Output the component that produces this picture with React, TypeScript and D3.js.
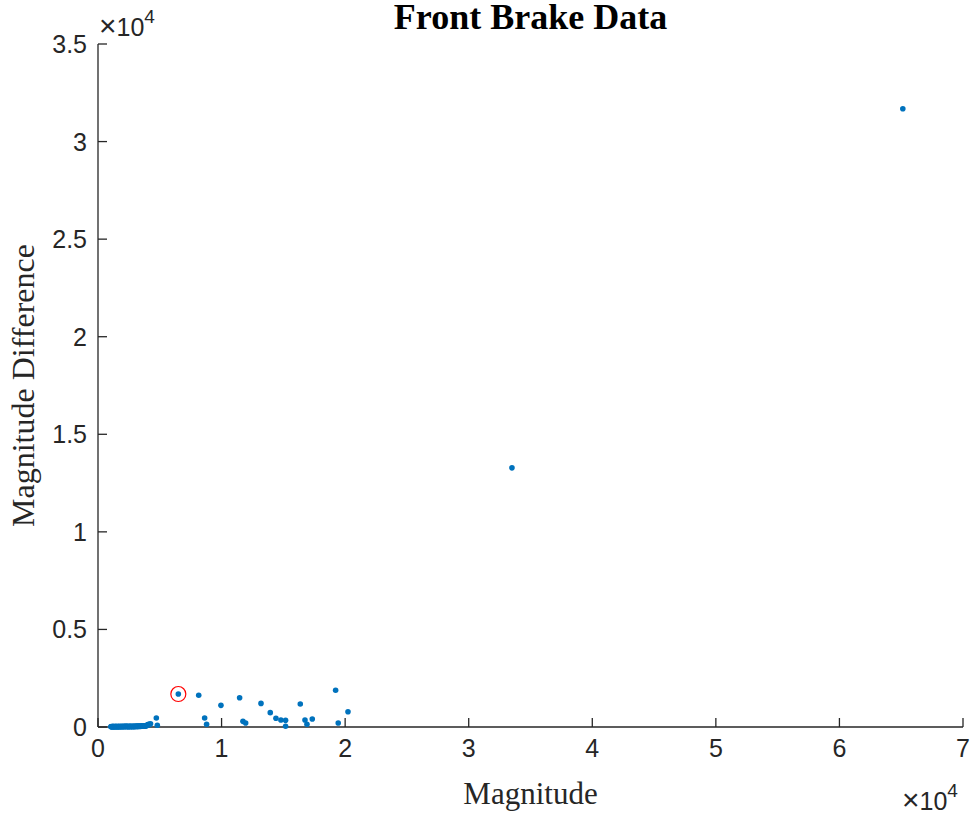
import React, { useEffect, useRef } from "react";
import * as d3 from "d3";

// Front brake readings: magnitude vs magnitude difference
const clusterMagnitude = [
    1040, 1070, 1100, 1130, 1160, 1190, 1220, 1250, 1290, 1320, 1350, 1380, 1420, 1450, 1480, 1510, 1550, 1580,
    1610, 1650, 1680, 1710, 1740, 1780, 1810, 1840, 1880, 1910, 1940, 1970, 2010, 2040, 2070, 2110, 2140, 2170,
    2200, 2240, 2270, 2300, 2340, 2370, 2400, 2430, 2470, 2500, 2530, 2570, 2600, 2630, 2660, 2700, 2730, 2760,
    2800, 2830, 2860, 2890, 2930, 2960, 2990, 3030, 3060, 3090, 3120, 3160, 3190, 3220, 3260, 3290, 3320, 3350,
    3390, 3420, 3450, 3490, 3520, 3550, 3580, 3620, 3650, 3680, 3720, 3750, 3780, 3810, 3850, 3880, 3910, 3950,
    3980, 4020, 4060, 4110, 4160];
const clusterDifference = [
    10, 20, 15, 5, 25, 10, 30, 15, 20, 10, 5, 25, 15, 30, 20, 10, 15, 25,
    5, 20, 30, 15, 10, 25, 20, 15, 30, 10, 20, 25, 15, 30, 20, 10, 25, 35,
    20, 30, 15, 25, 35, 30, 20, 15, 10, 25, 30, 20, 35, 15, 25, 30, 20, 10,
    25, 35, 20, 30, 15, 25, 30, 40, 20, 35, 25, 30, 45, 20, 35, 30, 40, 25,
    35, 45, 30, 40, 50, 35, 45, 40, 55, 45, 50, 60, 55, 65, 60, 70, 75, 80,
    90, 100, 120, 140, 130];

const spreadMagnitude = [4250, 4720, 4800, 6500, 8150, 8630, 8790, 9950, 11460, 11730, 11950, 13190, 13940, 14400, 14800, 15180, 15180, 16370, 16750, 16910, 17340, 19230, 19440, 20230, 33500, 65130];
const spreadDifference = [170, 460, 90, 1690, 1625, 460, 140, 1110, 1500, 290, 205, 1210, 735, 445, 360, 340, 40, 1180, 360, 140, 410, 1880, 205, 785, 13280, 31680];

// highlighted point (red circle)
const markedPoint = { magnitude: 6500, difference: 1690 };

const xTicks = [0, 10000, 20000, 30000, 40000, 50000, 60000, 70000];
const yTicks = [0, 5000, 10000, 15000, 20000, 25000, 30000, 35000];

export default function App() {
    const ref = useRef<SVGSVGElement>(null);

    useEffect(() => {
        document.body.style.margin = "0";
        const svg = d3.select(ref.current);
        svg.selectAll("*").remove();

        const axisColor = "#262626";
        const sans = "'Liberation Sans', Arial, Helvetica, sans-serif";
        const serif = "'Liberation Serif', 'Times New Roman', serif";

        const x = d3.scaleLinear().domain([0, 70000]).range([98, 963]);
        const y = d3.scaleLinear().domain([0, 35000]).range([727, 44]);

        const data = clusterMagnitude.map((m, i) => ({ m, d: clusterDifference[i] }))
            .concat(spreadMagnitude.map((m, i) => ({ m, d: spreadDifference[i] })));

        // axis lines
        svg.append("line")
            .attr("x1", x(0)).attr("x2", x(70000))
            .attr("y1", y(0)).attr("y2", y(0))
            .attr("stroke", axisColor).attr("stroke-width", 1.3);
        svg.append("line")
            .attr("x1", x(0)).attr("x2", x(0))
            .attr("y1", y(0)).attr("y2", y(35000))
            .attr("stroke", axisColor).attr("stroke-width", 1.3);

        // x ticks (inward)
        const xt = svg.append("g");
        xt.selectAll("line").data(xTicks).enter().append("line")
            .attr("x1", d => x(d)).attr("x2", d => x(d))
            .attr("y1", y(0)).attr("y2", y(0) - 9)
            .attr("stroke", axisColor).attr("stroke-width", 1.3);
        xt.selectAll("text").data(xTicks).enter().append("text")
            .attr("x", d => x(d)).attr("y", 757)
            .attr("text-anchor", "middle")
            .style("font-family", sans).style("font-size", "25px")
            .attr("fill", axisColor)
            .text(d => String(d / 10000));

        // y ticks (inward)
        const yt = svg.append("g");
        yt.selectAll("line").data(yTicks).enter().append("line")
            .attr("x1", x(0)).attr("x2", x(0) + 9)
            .attr("y1", d => y(d)).attr("y2", d => y(d))
            .attr("stroke", axisColor).attr("stroke-width", 1.3);
        yt.selectAll("text").data(yTicks).enter().append("text")
            .attr("x", 87).attr("y", d => y(d) + 9)
            .attr("text-anchor", "end")
            .style("font-family", sans).style("font-size", "25px")
            .attr("fill", axisColor)
            .text(d => String(d / 10000));

        // exponent labels
        const expo = (ex: number, base: number) => {
            const t = svg.append("text")
                .attr("x", ex).attr("y", base)
                .style("font-family", sans).attr("fill", axisColor);
            t.append("tspan").style("font-size", "30px").style("font-weight", "300").text("\u00d7");
            t.append("tspan").style("font-size", "25px").text("10");
            t.append("tspan").style("font-size", "19px").attr("dy", -13).text("4");
        };
        expo(99, 36);
        expo(902, 810);

        // points
        svg.append("g").selectAll("circle").data(data).enter().append("circle")
            .attr("cx", d => x(d.m)).attr("cy", d => y(d.d))
            .attr("r", 2.8)
            .attr("fill", "#0072BD");

        svg.append("circle")
            .attr("cx", x(markedPoint.magnitude)).attr("cy", y(markedPoint.difference))
            .attr("r", 7.5)
            .attr("fill", "none").attr("stroke", "#FF0000").attr("stroke-width", 1.2);

        // titles
        svg.append("text")
            .attr("x", (x(0) + x(70000)) / 2).attr("y", 29)
            .attr("text-anchor", "middle")
            .style("font-family", serif).style("font-size", "36px").style("font-weight", "bold")
            .attr("fill", "#000")
            .text("Front Brake Data");
        svg.append("text")
            .attr("x", (x(0) + x(70000)) / 2).attr("y", 804)
            .attr("text-anchor", "middle")
            .style("font-family", serif).style("font-size", "31px")
            .attr("fill", axisColor)
            .text("Magnitude");
        svg.append("text")
            .attr("transform", `translate(34,${(y(0) + y(35000)) / 2}) rotate(-90)`)
            .attr("text-anchor", "middle")
            .style("font-family", serif).style("font-size", "32px")
            .attr("fill", axisColor)
            .text("Magnitude Difference");
    }, []);

    return (
        <svg ref={ref} width={972} height={815} style={{ display: "block", background: "#fff" }} />
    );
}
